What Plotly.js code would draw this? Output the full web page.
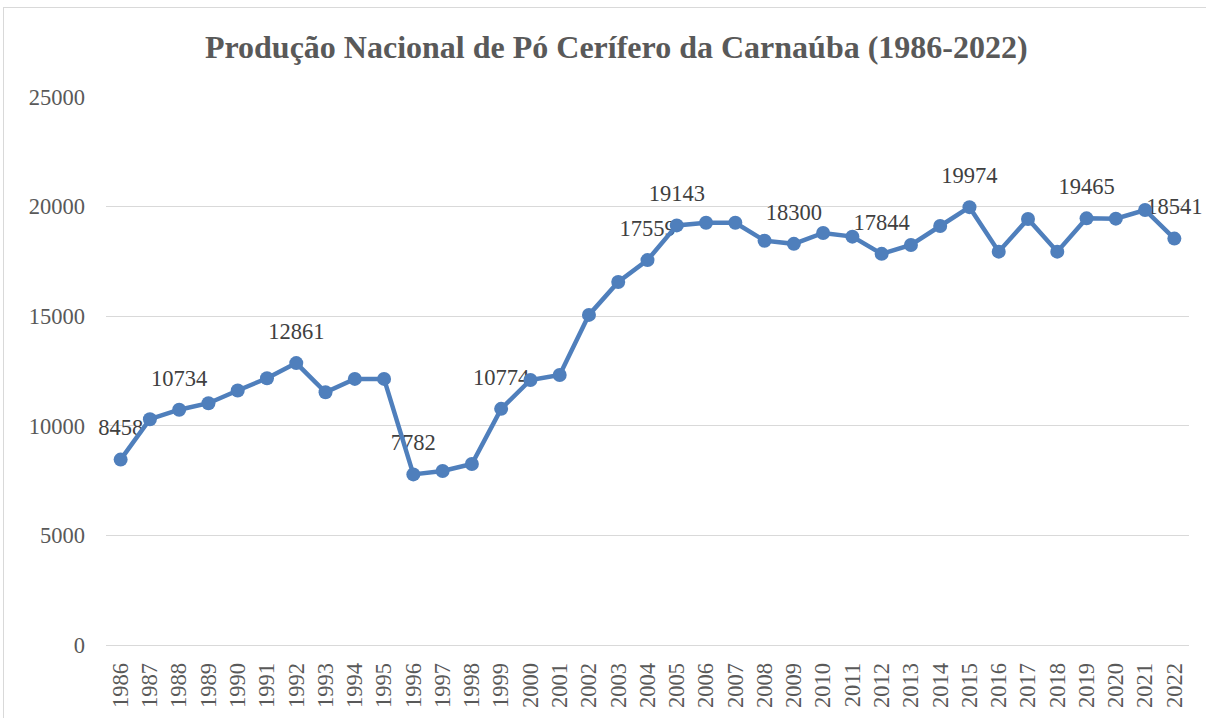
<!DOCTYPE html>
<html>
<head>
<meta charset="utf-8">
<script src="https://cdn.plot.ly/plotly-3.0.1.min.js"></script>
<style>
html,body{margin:0;padding:0;background:#fff;overflow:hidden;}
#frame{position:absolute;left:3px;top:7px;width:1400px;height:900px;border:1px solid #d9d9d9;}
#chart{position:absolute;left:0;top:0;width:1206px;height:718px;}
</style>
</head>
<body>
<div id="frame"></div>
<div id="chart"></div>
<script>
const years = ['1986','1987','1988','1989','1990','1991','1992','1993','1994','1995','1996','1997','1998','1999','2000','2001','2002','2003','2004','2005','2006','2007','2008','2009','2010','2011','2012','2013','2014','2015','2016','2017','2018','2019','2020','2021','2022'];
const production = [8458,10300,10734,11030,11610,12170,12861,11530,12140,12140,7782,7940,8260,10774,12090,12320,15060,16560,17559,19143,19265,19260,18445,18300,18795,18630,17844,18250,19115,19974,17945,19435,17945,19465,19450,19845,18541];
const labelledYears = ['1986','1988','1992','1996','1999','2004','2005','2009','2012','2015','2019','2022'];
const yTicks = [0, 5000, 10000, 15000, 20000, 25000];
const titleText = 'Produção Nacional de Pó Cerífero da Carnaúba (1986-2022)';

const serif = 'Liberation Serif, Times New Roman, serif';

const labelIdx = years.map((y, i) => i).filter(i => labelledYears.includes(years[i]));

const labelTrace = {
  x: labelIdx.map(i => years[i]), y: labelIdx.map(i => production[i]),
  type: 'scatter', mode: 'markers+text',
  marker: {color: 'rgba(0,0,0,0)', size: 28},
  text: labelIdx.map(i => String(production[i])), textposition: 'top center',
  textfont: {family: serif, size: 22.5, color: '#404040'},
  cliponaxis: false, hoverinfo: 'skip'
};

const lineTrace = {
  x: years, y: production, type: 'scatter', mode: 'lines+markers',
  line: {color: '#4f7fbc', width: 4.5},
  marker: {color: '#4f7fbc', size: 14},
  cliponaxis: false, hoverinfo: 'x+y'
};

const layout = {
  width: 1206, height: 718,
  margin: {l: 106, r: 17, t: 97, b: 73},
  paper_bgcolor: 'rgba(0,0,0,0)', plot_bgcolor: 'rgba(0,0,0,0)',
  showlegend: false,
  title: {text: '<b>' + titleText + '</b>', x: 0.511, xanchor: 'center', y: 0.935, yanchor: 'middle',
          font: {family: serif, size: 32, color: '#595959'}},
  xaxis: {type: 'category', categoryorder: 'array', categoryarray: years, range: [-0.5, 36.5], tickangle: -90,
          tickfont: {family: serif, size: 22.5, color: '#595959'},
          showgrid: false, showline: true, linecolor: '#d9d9d9', linewidth: 1,
          ticks: '', ticklabelstandoff: 8, zeroline: false},
  yaxis: {range: [0, 25000], tickmode: 'array', tickvals: yTicks, ticktext: yTicks.map(String),
          tickfont: {family: serif, size: 22.5, color: '#595959'},
          showgrid: true, gridcolor: '#d9d9d9', gridwidth: 1,
          zeroline: false, showline: false, ticks: '', ticklabelstandoff: 20}
};

Plotly.newPlot('chart', [labelTrace, lineTrace], layout, {displayModeBar: false, staticPlot: true});
</script>
</body>
</html>
